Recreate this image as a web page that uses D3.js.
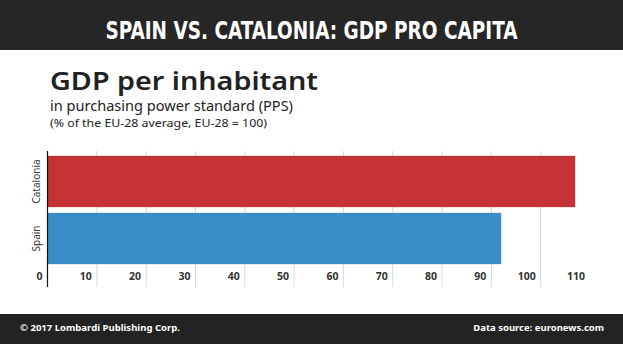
<!DOCTYPE html>
<html>
<head>
<meta charset="utf-8">
<script src="https://cdn.jsdelivr.net/npm/d3@7"></script>
<style>
  html, body { margin: 0; padding: 0; background: #fff; }
  svg { display: block; }
</style>
</head>
<body>
<svg id="chart" width="623" height="344"></svg>
<script>
// Data
let regions = ['Catalonia', 'Spain'];
let values = [107, 92];
let colors = ['#c53234', '#3a8dc6'];
let ticks = [0, 10, 20, 30, 40, 50, 60, 70, 80, 90, 100, 110];

let W = 623, H = 344;
let svg = d3.select('#chart');
let font = "'Noto Sans', sans-serif";

// Header band
svg.append('rect').attr('x', 0).attr('y', 0).attr('width', W).attr('height', 50).attr('fill', '#262626');
svg.append('text')
    .attr('x', W / 2).attr('y', 39)
    .attr('text-anchor', 'middle')
    .attr('font-family', "'DejaVu Sans Condensed', 'DejaVu Sans', sans-serif")
    .attr('font-weight', 'bold')
    .attr('font-size', 24)
    .attr('fill', '#fff')
    .attr('textLength', 412)
    .attr('lengthAdjust', 'spacingAndGlyphs')
    .text('SPAIN VS. CATALONIA: GDP PRO CAPITA');

// Titles
svg.append('text')
    .attr('x', 50).attr('y', 90)
    .attr('font-family', font).attr('font-weight', 600).attr('font-size', 25)
    .attr('fill', '#222')
    .attr('textLength', 268).attr('lengthAdjust', 'spacingAndGlyphs')
    .text('GDP per inhabitant');
svg.append('text')
    .attr('x', 50).attr('y', 111)
    .attr('font-family', font).attr('font-size', 13.5)
    .attr('fill', '#222')
    .attr('textLength', 243).attr('lengthAdjust', 'spacingAndGlyphs')
    .text('in purchasing power standard (PPS)');
svg.append('text')
    .attr('x', 50).attr('y', 127)
    .attr('font-family', font).attr('font-size', 10.5)
    .attr('fill', '#222')
    .attr('textLength', 217).attr('lengthAdjust', 'spacingAndGlyphs')
    .text('(% of the EU-28 average, EU-28 = 100)');

// Scales
let x = d3.scaleLinear().domain([0, 110]).range([47.5, 590]);
let y = d3.scaleBand().domain(regions).range([153, 267]).paddingInner(0.1).paddingOuter(0.05);

// Gridlines
svg.append('g')
    .selectAll('line')
    .data(ticks.filter((t) => t > 0 && t < 110))
    .enter()
    .append('line')
    .attr('x1', (d) => x(d)).attr('x2', (d) => x(d))
    .attr('y1', 151).attr('y2', 287)
    .attr('stroke', '#d9d9d9').attr('stroke-width', 1);

// Bars
svg.append('g')
    .selectAll('rect')
    .data(regions)
    .enter()
    .append('rect')
    .attr('x', x(0))
    .attr('y', (d) => y(d))
    .attr('width', (d, i) => x(values[i]) - x(0))
    .attr('height', y.bandwidth())
    .attr('fill', (d, i) => colors[i]);

// Axis line
svg.append('line')
    .attr('x1', x(0)).attr('x2', x(0))
    .attr('y1', 151).attr('y2', 287)
    .attr('stroke', '#111').attr('stroke-width', 1.2);

// Tick labels
svg.append('g')
    .selectAll('text')
    .data(ticks)
    .enter()
    .append('text')
    .attr('x', (d) => x(d) - 5)
    .attr('y', 280)
    .attr('text-anchor', 'end')
    .attr('font-family', font).attr('font-weight', 'bold').attr('font-size', 10.5)
    .attr('fill', '#333')
    .text((d) => d);

// Category labels
svg.append('g')
    .selectAll('text')
    .data(regions)
    .enter()
    .append('text')
    .attr('transform', (d) => `translate(40,${y(d) + y.bandwidth() / 2}) rotate(-90)`)
    .attr('text-anchor', 'middle')
    .attr('font-family', font).attr('font-size', 10)
    .attr('fill', '#333')
    .text((d) => d);

// Footer band
svg.append('rect').attr('x', 0).attr('y', 314).attr('width', W).attr('height', 30).attr('fill', '#232323');
svg.append('text')
    .attr('x', 20).attr('y', 331)
    .attr('font-family', font).attr('font-weight', 'bold').attr('font-size', 9.5)
    .attr('fill', '#fff')
    .attr('textLength', 160).attr('lengthAdjust', 'spacingAndGlyphs')
    .text('© 2017 Lombardi Publishing Corp.');
svg.append('text')
    .attr('x', 604).attr('y', 331)
    .attr('text-anchor', 'end')
    .attr('font-family', font).attr('font-weight', 'bold').attr('font-size', 9.5)
    .attr('fill', '#fff')
    .text('Data source: euronews.com');
</script>
</body>
</html>
